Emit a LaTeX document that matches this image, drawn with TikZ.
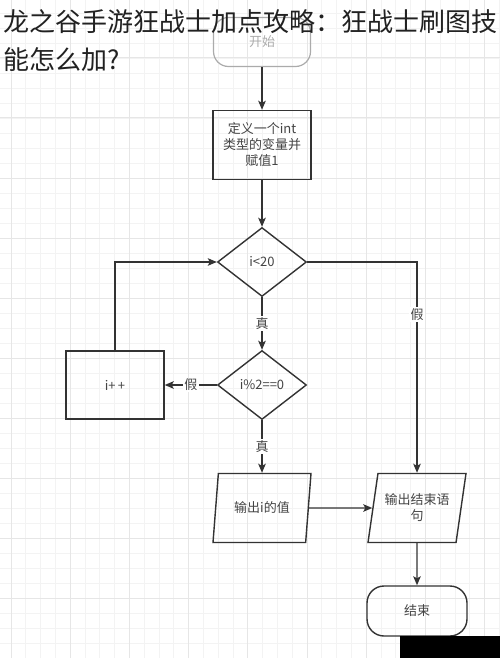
\documentclass[tikz,border=0pt]{standalone}
\usepackage{fontspec}
\setmainfont{Noto Sans CJK SC}
\usetikzlibrary{arrows.meta,shapes.geometric}
\definecolor{FLine}{HTML}{333333}
\definecolor{FText}{HTML}{444444}
\definecolor{FFade}{HTML}{ABABAB}
\definecolor{GMinor}{HTML}{F3F3F3}
\definecolor{GMajor}{HTML}{E6E6E6}

\begin{document}
\begin{tikzpicture}[
  x=1pt,y=-1pt,
  every node/.style={font=\fontsize{13}{16}\selectfont,text=FText},
  terminal/.style={draw=FLine,line width=1.4pt,rounded corners=17pt,
    minimum width=100pt,minimum height=50pt,align=center},
  process/.style={draw=FLine,line width=1.4pt,minimum width=98pt,
    minimum height=69pt,text width=80pt,align=center},
  decision/.style={diamond,draw=FLine,line width=1.4pt,minimum width=89pt,
    minimum height=69pt,inner sep=0pt},
  io/.style={trapezium,trapezium left angle=74,trapezium right angle=106,
    trapezium stretches body=true,draw=FLine,line width=1.4pt,
    minimum width=98pt,minimum height=69pt,text width=66pt,align=center},
  arr/.style={-{Stealth[length=9pt,width=7.5pt,inset=2pt]},line width=1.4pt,color=FLine},
  cond/.style={fill=white,inner sep=1.5pt},
  headline/.style={font=\fontsize{26}{38}\selectfont,text=black!87,anchor=base west,inner sep=0pt},
  gridminor/.style={color=GMinor,line width=0.8pt},
  gridmajor/.style={color=GMajor,line width=1pt}
]
  \useasboundingbox (0,0) rectangle (500,658);
  \fill[white] (0,0) rectangle (500,658);
  % background grid
  \foreach \k in {0,...,33} {\pgfmathsetmacro\gx{11+14.8*\k}
    \draw[gridminor] (\gx,0) -- (\gx,658);}
  \foreach \k in {0,...,43} {\pgfmathsetmacro\gy{13+15*\k}
    \draw[gridminor] (0,\gy) -- (500,\gy);}
  \foreach \k in {0,...,8} {\pgfmathsetmacro\gx{11+59.2*\k}
    \draw[gridmajor] (\gx,0) -- (\gx,658);}
  \foreach \k in {0,...,10} {\pgfmathsetmacro\gy{58+60*\k}
    \draw[gridmajor] (0,\gy) -- (500,\gy);}

  \node[terminal,draw=FFade,text=FFade,minimum width=97pt,minimum height=49pt,
    rounded corners=15pt,line width=1.2pt] (start) at (262,42) {开始};
  \node[process] (init) at (262,145) {定义一个int\\类型的变量并\\赋值1};
  \node[decision] (c1) at (262,262) {i<20};
  \node[decision] (c2) at (262,385) {i\%2==0};
  \node[process,minimum height=68pt] (inc) at (115,385) {i+\,+};
  \node[io] (out1) at (262,508) {输出i的值};
  \node[io] (out2) at (417,508) {输出结束语\\句};
  \node[terminal] (stop) at (417,611) {结束};

  \foreach \a/\b in {start/init,init/c1,out1/out2,out2/stop} {\draw[arr] (\a) -- (\b);}
  \draw[arr] (c1) -- node[cond]{真} (c2);
  \draw[arr] (c2) -- node[cond]{假} (inc);
  \draw[arr] (inc.north) |- (c1.west);
  \draw[arr] (c2) -- node[cond]{真} (out1);
  \draw[arr] (c1.east) -| node[cond,pos=0.625]{假} (out2.north);

  \fill[black] (400,636) rectangle (500,658);

  \node[headline] (title1) at (3,32) {龙之谷手游狂战士加点攻略：狂战士刷图技};
  \node[headline] (title2) at (3,70) {能怎么加?};
\end{tikzpicture}
\end{document}
